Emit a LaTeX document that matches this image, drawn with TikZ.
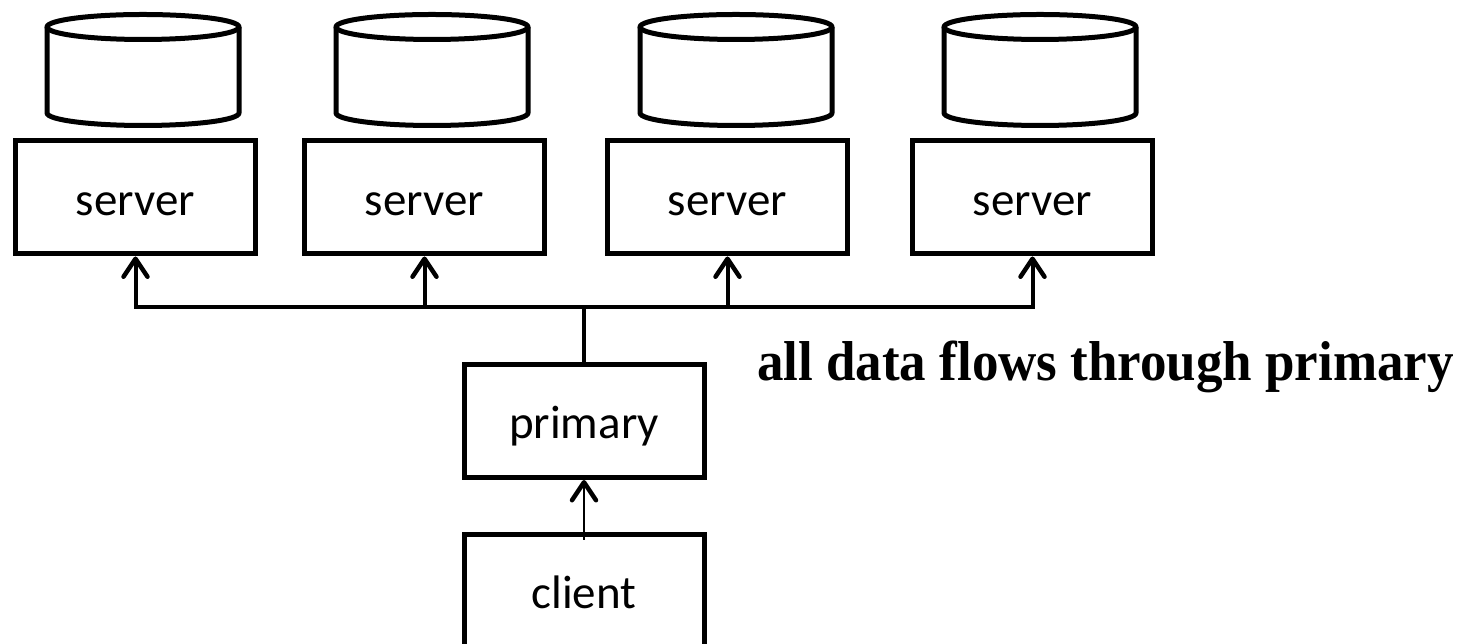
\documentclass[tikz,border=0pt]{standalone}
\usepackage{fontspec}
\usetikzlibrary{arrows.meta}
\newfontfamily\labelfont{Carlito}
\newfontfamily\notefont{Liberation Serif}

\tikzset{
  x=1pt, y=1pt,
  box/.style={draw, line width=5pt, minimum width=240pt, minimum height=113pt,
    inner sep=0pt, text height=36pt, text depth=0pt,
    font=\labelfont\fontsize{47}{56}\selectfont},
  link/.style={line width=4pt},
  thinlink/.style={line width=2pt},
  tip/.tip={Straight Barb[length=18pt, width=24pt, line width=4.5pt, line cap=round, line join=round]},
  diskline/.style={line width=5pt, line join=round},
  disk/.pic={
    \draw[diskline] (0,0) ellipse[x radius=96, y radius=12.5];
    \draw[diskline] (-96,0) -- (-96,-86)
      arc[start angle=180, end angle=360, x radius=96, y radius=12.5] -- (96,0);
  },
}

\begin{document}
\begin{tikzpicture}
\useasboundingbox (0,0) rectangle (1466,644);
\clip (0,0) rectangle (1466,644);

% storage disks above the servers
\pic at (143,617) {disk};
\pic at (432,617) {disk};
\pic at (736,617) {disk};
\pic at (1040,617) {disk};

% servers
\node[box] (s1) at (135.5,446.5) {server};
\node[box] (s2) at (424.5,446.5) {server};
\node[box] (s3) at (727.5,446.5) {server};
\node[box] (s4) at (1032.5,446.5) {server};

% primary and client
\node[box] (primary) at (584,223) {primary};
\node[box] (client) at (584,53) {client};

% fan-out bus from the primary to every server
\coordinate (bus) at (584,337);
\draw[link] (primary.north) -- (bus);
\draw[link, -tip] (bus) -| (s1.south);
\draw[link, -tip] (bus) -| (s4.south);
\draw[link, -tip] (s2.south |- bus) -- (s2.south);
\draw[link, -tip] (s3.south |- bus) -- (s3.south);

% client request into the primary
\draw[thinlink, -tip] ([yshift=-8pt]client.north) -- (primary.south);

% caption
\node[anchor=base, inner sep=0pt, yscale=1.06, font=\notefont\bfseries\fontsize{53}{60}\selectfont]
  (note) at (1105.5,263) {all data flows through primary};
\end{tikzpicture}
\end{document}
